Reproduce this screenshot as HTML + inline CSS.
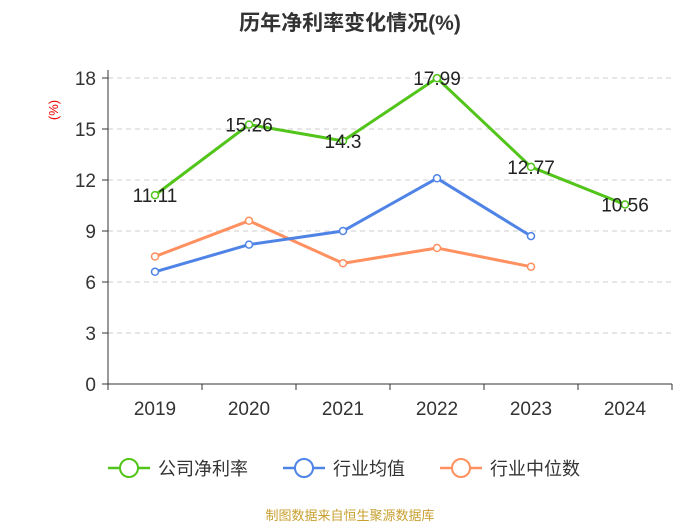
<!DOCTYPE html>
<html><head><meta charset="utf-8"><style>
body{margin:0;background:#fff;width:700px;height:525px;overflow:hidden;font-family:"Liberation Sans","Noto Sans CJK SC",sans-serif}
</style></head><body>
<svg width="700" height="525" xmlns="http://www.w3.org/2000/svg">
<text x="350" y="30" text-anchor="middle" font-size="21" font-weight="bold" fill="#333" font-family="Liberation Sans, Noto Sans CJK SC, sans-serif">历年净利率变化情况(%)</text>
<text x="58" y="110" font-size="13" fill="#e00" transform="rotate(-90 58 110)" text-anchor="middle">(%)</text>
<g id="grid"></g><g id="axes"></g><g id="series"></g>
<g font-size="18" fill="#333" font-family="Liberation Sans, Noto Sans CJK SC, sans-serif">
<g><line x1="108" y1="468" x2="150" y2="468" stroke="#52c41a" stroke-width="2.5"/><circle cx="129" cy="468" r="9" fill="#fff" stroke="#52c41a" stroke-width="2"/><text x="158" y="475">公司净利率</text></g>
<g><line x1="283" y1="468" x2="325" y2="468" stroke="#4f84e6" stroke-width="2.5"/><circle cx="304" cy="468" r="9" fill="#fff" stroke="#4f84e6" stroke-width="2"/><text x="333" y="475">行业均值</text></g>
<g><line x1="440" y1="468" x2="482" y2="468" stroke="#ff9060" stroke-width="2.5"/><circle cx="461" cy="468" r="9" fill="#fff" stroke="#ff9060" stroke-width="2"/><text x="490" y="475">行业中位数</text></g>
</g>
<text x="350" y="520" text-anchor="middle" font-size="13" fill="#c8a030">制图数据来自恒生聚源数据库</text>
</svg>
<script>
const categories=["2019","2020","2021","2022","2023","2024"];
const company=[11.11,15.26,14.3,17.99,12.77,10.56];
const industryAvg=[6.6,8.2,9.0,12.1,8.7,null];
const industryMedian=[7.5,9.6,7.1,8.0,6.9,null];
const yTicks=[0,3,6,9,12,15,18];
const NS="http://www.w3.org/2000/svg";
const x0=108,x1=672,y0=384,yTop=78;
const band=(x1-x0)/categories.length;
const xs=i=>x0+band*(i+0.5);
const ys=v=>y0-(v/18)*(y0-yTop);
function mk(t,a,p){const e=document.createElementNS(NS,t);for(const k in a)e.setAttribute(k,a[k]);p.appendChild(e);return e;}
const grid=document.getElementById('grid'),axes=document.getElementById('axes'),ser=document.getElementById('series');
yTicks.forEach(v=>{
 if(v>0){const g=mk('line',{x1:x0,x2:x1,y1:ys(v),y2:ys(v),stroke:'#ccc','stroke-dasharray':'5,4'},grid);
 
 }
 const t=mk('text',{x:96,y:ys(v)+7,'text-anchor':'end','font-size':19,fill:'#333'},axes);t.textContent=v;
 
 
 mk('line',{x1:102,x2:x0,y1:ys(v),y2:ys(v),stroke:'#333'},axes);
});
const ya=mk('line',{x1:x0,x2:x0,y1:yTop-8,y2:y0,stroke:'#333'},axes);


const xa=mk('line',{x1:x0,x2:x1,y1:y0,y2:y0,stroke:'#333'},axes);


categories.forEach((c,i)=>{
 mk('line',{x1:x0+band*i,x2:x0+band*i,y1:y0,y2:y0+6,stroke:'#333'},axes);
 const t=mk('text',{x:xs(i),y:y0+31,'text-anchor':'middle','font-size':19,fill:'#333'},axes);t.textContent=c;
 
 
});
mk('line',{x1:x1,x2:x1,y1:y0,y2:y0+6,stroke:'#333'},axes);
function series(data,color,name,labels){
 const pts=data.map((v,i)=>v==null?null:[xs(i),ys(v)]).filter(p=>p);
 const pl=mk('polyline',{points:pts.map(p=>p.join(',')).join(' '),fill:'none',stroke:color,'stroke-width':3},ser);
 
 
 data.forEach((v,i)=>{if(v==null)return;
  const c=mk('circle',{cx:xs(i),cy:ys(v),r:3.5,fill:'#fff',stroke:color,'stroke-width':1.5},ser);
  
  
  if(labels){const t=mk('text',{x:xs(i),y:ys(v)+7,'text-anchor':'middle','font-size':19,fill:'#222'},ser);t.textContent=v;
  
  }
 });
}
series(industryMedian,'#ff9060','industry-median',false);
series(industryAvg,'#4f84e6','industry-avg',false);
series(company,'#52c41a','company',true);
</script>
</body></html>
